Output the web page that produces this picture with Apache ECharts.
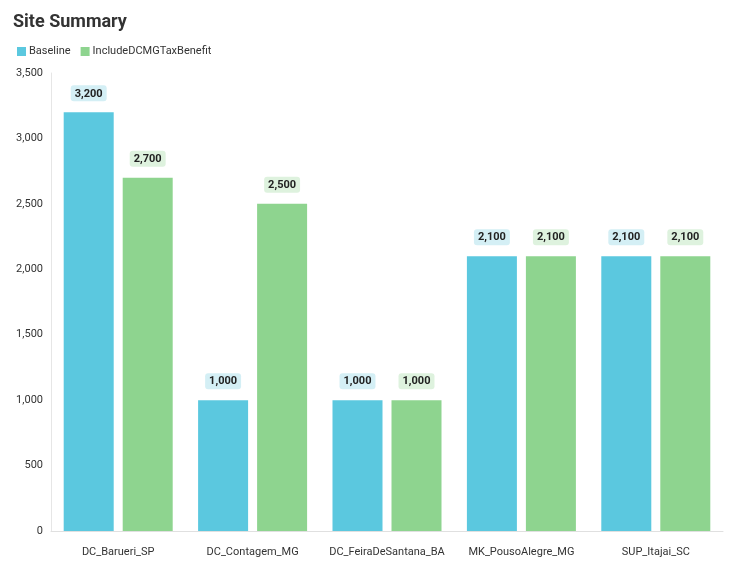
<!DOCTYPE html>
<html><head><meta charset="utf-8">
<script src="https://cdn.jsdelivr.net/npm/echarts@6/dist/echarts.min.js"></script>
<style>html,body{margin:0;padding:0;background:#fff}#c{width:738px;height:574px}</style>
</head><body><div id="c"></div>
<script>
const categories = ['DC_Barueri_SP','DC_Contagem_MG','DC_FeiraDeSantana_BA','MK_PousoAlegre_MG','SUP_Itajai_SC'];
const baseline = [3200, 1000, 1000, 2100, 2100];
const includeTax = [2700, 2500, 1000, 2100, 2100];
const seriesNames = ['Baseline', 'IncludeDCMGTaxBenefit'];
const yTicks = {min: 0, max: 3500, interval: 500};

const chart = echarts.init(document.getElementById('c'));
const fmt = v => v.toLocaleString('en-US');
function lbl(bg) {
  return {show: true, position: 'top', distance: 11, formatter: p => fmt(p.value),
    color: '#222', fontWeight: 'bold', fontSize: 11, fontFamily: 'Roboto',
    backgroundColor: bg, borderRadius: 3, padding: [3, 4, 2, 4]};
}
chart.setOption({
  animation: false,
  textStyle: {fontFamily: 'Roboto'},
  title: {text: 'Site Summary', left: 8, top: 8, textStyle: {fontSize: 18, fontWeight: 'bold', color: '#333', fontFamily: 'Roboto'}},
  legend: {left: 12, top: 41, itemWidth: 9, itemHeight: 9, itemGap: 10, icon: 'rect',
    textStyle: {fontSize: 11, color: '#333', padding: [0,0,0,-2]}, data: seriesNames},
  grid: {left: 51, right: 15, top: 73, bottom: 43, containLabel: false},
  xAxis: {type: 'category', data: categories,
    axisLine: {lineStyle: {color: '#e0e0e0'}}, axisTick: {show: false},
    axisLabel: {color: '#333', fontSize: 11, margin: 16, interval: 0}},
  yAxis: {type: 'value', min: yTicks.min, max: yTicks.max, interval: yTicks.interval,
    axisLine: {show: true, lineStyle: {color: '#e6e6e6'}}, axisTick: {show: false}, splitLine: {show: false},
    axisLabel: {color: '#333', fontSize: 11, margin: 8, formatter: v => fmt(v)}},
  series: [
    {name: seriesNames[0], type: 'bar', data: baseline, barWidth: 50, barGap: '18%',
      itemStyle: {color: '#5BC8DF'}, label: lbl('#d4eff5')},
    {name: seriesNames[1], type: 'bar', data: includeTax, barWidth: 50,
      itemStyle: {color: '#8ED48F'}, label: lbl('#def2de')}
  ]
});
</script></body></html>
